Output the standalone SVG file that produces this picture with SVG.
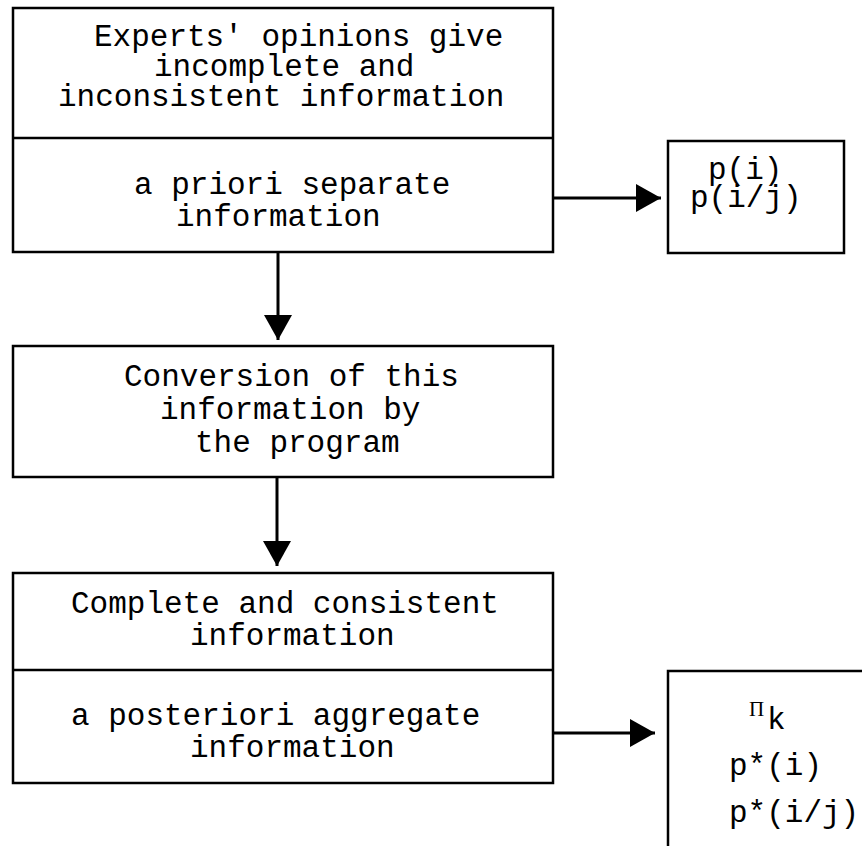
<svg xmlns="http://www.w3.org/2000/svg" width="862" height="846" viewBox="0 0 862 846">
<style>
.box{fill:#fff;stroke:#000;stroke-width:2.5}
.div{stroke:#000;stroke-width:2.5}
.t{font-family:"Liberation Mono","DejaVu Sans Mono",monospace;font-size:31px;fill:#000}
.pi{font-family:"Liberation Serif","DejaVu Serif",serif;font-size:21px;fill:#000}
.c{stroke:#000;stroke-width:3;fill:none}
</style>
<defs>
<marker id="ah" markerUnits="userSpaceOnUse" markerWidth="25" markerHeight="28" refX="25" refY="14" orient="auto">
<path d="M0,0 L25,14 L0,28 z" fill="#000"/>
</marker>
</defs>
<rect width="862" height="846" fill="#fff"/>
<g id="connectors">
<line class="c" x1="553" y1="198" x2="661" y2="198" marker-end="url(#ah)"/>
<line class="c" x1="278" y1="252" x2="278" y2="340" marker-end="url(#ah)"/>
<line class="c" x1="277" y1="477" x2="277" y2="566" marker-end="url(#ah)"/>
<line class="c" x1="553" y1="733" x2="655" y2="733" marker-end="url(#ah)"/>
</g>
<g id="box1">
<rect class="box" x="13" y="8" width="540" height="244"/>
<line class="div" x1="13" y1="138" x2="553" y2="138"/>
<text class="t" x="94" y="46">Experts' opinions give</text>
<text class="t" x="154" y="76">incomplete and</text>
<text class="t" x="58" y="106">inconsistent information</text>
<text class="t" x="134" y="194">a priori separate</text>
<text class="t" x="176" y="226">information</text>
</g>
<g id="out1">
<rect class="box" x="668" y="141" width="176" height="112"/>
<text class="t" x="708" y="179">p(i)</text>
<text class="t" x="690" y="207">p(i/j)</text>
</g>
<g id="box2">
<rect class="box" x="13" y="346" width="540" height="131"/>
<text class="t" x="124" y="386">Conversion of this</text>
<text class="t" x="160" y="419">information by</text>
<text class="t" x="195" y="452">the program</text>
</g>
<g id="box3">
<rect class="box" x="13" y="573" width="540" height="210"/>
<line class="div" x1="13" y1="670" x2="553" y2="670"/>
<text class="t" x="71" y="613">Complete and consistent</text>
<text class="t" x="190" y="645">information</text>
<text class="t" x="71" y="725">a posteriori aggregate</text>
<text class="t" x="190" y="757">information</text>
</g>
<g id="out2">
<path class="box" d="M668,846 V671 H862"/>
<text class="pi" x="749" y="716">Π</text>
<text class="t" x="767" y="729">k</text>
<text class="t" x="729" y="775">p*(i)</text>
<text class="t" x="729" y="822">p*(i/j)</text>
</g>
</svg>
